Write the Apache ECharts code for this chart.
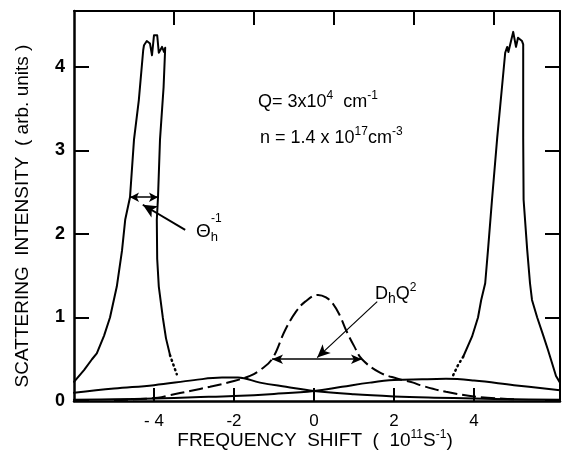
<!DOCTYPE html>
<html><head><meta charset="utf-8">
<script src="https://cdn.jsdelivr.net/npm/echarts@6/dist/echarts.min.js"></script>
<style>html,body{margin:0;padding:0;background:#fff}#c{width:570px;height:470px}</style>
</head><body><div id="c"></div>
<script>
// ---- data ----
const xTicks = [-4, -2, 0, 2, 4];
const xTickLabels = ['- 4', '-2', '0', '2', '4'];
const yTicks = [0, 1, 2, 3, 4];
const leftPeak = [[-6.0,0.23],[-5.75,0.37],[-5.55,0.5],[-5.43,0.57],[-5.25,0.78],[-5.1,1.0],[-4.93,1.37],[-4.8,1.8],[-4.72,2.17],[-4.6,2.44],[-4.5,3.13],[-4.38,3.6],[-4.27,4.2],[-4.25,4.26],[-4.18,4.31],[-4.1,4.28],[-4.05,4.14],[-4.0,4.38],[-3.92,4.38],[-3.88,4.17],[-3.8,4.24],[-3.75,4.18],[-3.72,4.23],[-3.76,3.76],[-3.85,3.13],[-3.9,2.44],[-3.93,2.17],[-3.92,1.7],[-3.88,1.37],[-3.78,1.0],[-3.7,0.75],[-3.6,0.55]];
const leftPeakDots = [[-3.6,0.55],[-3.52,0.44],[-3.43,0.32]];
const rightPeakDots = [[3.48,0.31],[3.6,0.43],[3.73,0.53]];
const rightPeak = [[3.73,0.53],[3.95,0.77],[4.1,1.0],[4.18,1.21],[4.28,1.41],[4.35,1.81],[4.45,2.41],[4.58,3.15],[4.7,3.76],[4.78,4.17],[4.83,4.24],[4.86,4.18],[4.93,4.32],[4.98,4.42],[5.05,4.24],[5.1,4.35],[5.2,4.31],[5.23,4.27],[5.23,3.76],[5.23,3.15],[5.24,2.41],[5.33,1.81],[5.4,1.41],[5.45,1.21],[5.58,1.0],[5.72,0.8],[5.85,0.61],[5.96,0.44],[6.05,0.3],[6.15,0.22]];
const centralDashed = [[-5,0.01],[-4.5,0.02],[-3.9,0.04],[-3.6,0.07],[-3.1,0.12],[-2.6,0.17],[-2.0,0.24],[-1.6,0.3],[-1.35,0.37],[-1.05,0.5],[-0.72,0.85],[-0.45,1.07],[-0.22,1.19],[0.1,1.27],[0.3,1.24],[0.48,1.16],[0.65,1.02],[0.8,0.85],[1.0,0.66],[1.2,0.5],[1.65,0.34],[2.07,0.27],[2.48,0.22],[2.65,0.19],[3.3,0.11],[4.08,0.05],[5.0,0.02]];
const broadLeft = [[-6,0.1],[-5,0.15],[-4,0.19],[-3,0.25],[-2.3,0.28],[-1.9,0.28],[-1.35,0.22],[-0.7,0.17],[0,0.12],[1,0.08],[2,0.055],[3,0.04],[4,0.03],[5,0.02],[6.15,0.015]];
const broadRight = [[-6,0.015],[-5,0.02],[-4,0.03],[-3,0.045],[-2,0.06],[-1,0.085],[0,0.12],[0.7,0.17],[1.4,0.22],[2,0.25],[2.7,0.26],[3.3,0.265],[4,0.245],[5,0.19],[6.15,0.13]];
// annotation arrows (data coords)
const thetaArrow = [[-4.6,2.44],[-3.9,2.44]];
const thetaPointer = [[-3.22,2.05],[-4.28,2.35]];
const dhArrow = [[-1.05,0.5],[1.2,0.5]];
const dhPointer = [[1.58,1.19],[0.08,0.52]];

const FONT = '"Liberation Sans", Arial, Helvetica, sans-serif';
const chart = echarts.init(document.getElementById('c'), null, {renderer: 'canvas'});
const blk = '#000';
const solid = (d, w) => ({type: 'line', data: d, showSymbol: false, symbol: 'none', silent: true, animation: false,
  lineStyle: {color: blk, width: w || 2, join: 'round', cap: 'round'}});
const richBase = {
  n: {fontSize: 18, lineHeight: 24, fontFamily: FONT, color: blk},
  sup: {fontSize: 12, lineHeight: 12, verticalAlign: 'top', fontFamily: FONT, color: blk},
  sub: {fontSize: 13, lineHeight: 13, verticalAlign: 'bottom', fontFamily: FONT, color: blk}
};
function arrowLine(pair, both, w, size) {
  return [{coord: pair[0], symbol: both ? 'arrow' : 'none', symbolSize: size},
          {coord: pair[1], symbol: 'arrow', symbolSize: size, lineStyle: {width: w}}];
}
const ann = solid(broadLeft);
ann.markLine = {silent: true, animation: false, label: {show: false}, symbol: ['arrow','arrow'],
  lineStyle: {color: blk, type: 'solid', width: 1.5},
  data: [
    arrowLine(thetaArrow, true, 1.5, [7,9]),
    arrowLine(thetaPointer, false, 2, [10,14]),
    arrowLine(dhArrow, true, 1.5, [7,11]),
    arrowLine(dhPointer, false, 1.2, [9,13])
  ]};
const dots = d => ({type: 'line', data: d, showSymbol: false, symbol: 'none', silent: true, animation: false,
  lineStyle: {color: blk, width: 2.5, type: [1, 4], cap: 'round'}});

chart.setOption({
  backgroundColor: '#fff',
  animation: false,
  grid: {left: 74, right: 10, top: 11, bottom: 69},
  xAxis: [{
    type: 'value', min: -6, max: 6.15, position: 'bottom',
    axisLine: {onZero: false, lineStyle: {color: blk, width: 2.5}},
    axisTick: {inside: true, length: 13, lineStyle: {color: blk, width: 2}, customValues: xTicks},
    axisLabel: {customValues: xTicks, color: blk, fontSize: 17, fontFamily: FONT, margin: 12,
      formatter: v => xTickLabels[xTicks.indexOf(v)]},
    splitLine: {show: false}
  }, {
    type: 'value', min: -6, max: 6.15, position: 'top',
    axisLine: {onZero: false, lineStyle: {color: blk, width: 2}},
    axisTick: {inside: true, length: 14, lineStyle: {color: blk, width: 2}, customValues: [-3.5,-1.5,0.5,2.5,4.5]},
    axisLabel: {show: false}, splitLine: {show: false}
  }],
  yAxis: [{
    type: 'value', min: 0, max: 4.67, position: 'left',
    axisLine: {show: true, onZero: false, lineStyle: {color: blk, width: 2.5}},
    axisTick: {show: true, inside: true, length: 15, lineStyle: {color: blk, width: 2}, customValues: yTicks},
    axisLabel: {customValues: yTicks, color: blk, fontSize: 18, fontWeight: 'bold', fontFamily: FONT, margin: 9},
    splitLine: {show: false}
  }, {
    type: 'value', min: 0, max: 4.67, position: 'right',
    axisLine: {show: true, onZero: false, lineStyle: {color: blk, width: 2}},
    axisTick: {show: true, inside: true, length: 15, lineStyle: {color: blk, width: 2}, customValues: yTicks},
    axisLabel: {show: false}, splitLine: {show: false}
  }],
  series: [
    solid(leftPeak), dots(leftPeakDots),
    solid(rightPeak), dots(rightPeakDots),
    Object.assign(solid(centralDashed), {smooth: 0.4, lineStyle: {color: blk, width: 2, type: [14, 5]}}),
    Object.assign(ann, {smooth: 0.4}),
    Object.assign(solid(broadRight), {smooth: 0.4})
  ],
  graphic: [
    {type: 'text', x: 258, y: 102, silent: true, style: {text: '{n|Q= 3x10}{sup|4}{n|  cm}{sup|-1}', rich: richBase, align: 'left', verticalAlign: 'middle'}},
    {type: 'text', x: 260, y: 138, silent: true, style: {text: '{n|n = 1.4 x 10}{sup|17}{n|cm}{sup|-3}', rich: richBase, align: 'left', verticalAlign: 'middle'}},
    {type: 'text', x: 196, y: 232, silent: true, style: {text: '{n|Θ}{sub|h}', rich: {n: {fontSize: 19, lineHeight: 24, fontFamily: FONT, color: blk}, sub: richBase.sub}, align: 'left', verticalAlign: 'middle'}},
    {type: 'text', x: 211, y: 219, silent: true, style: {text: '-1', fontSize: 12, fontFamily: FONT, fill: blk, align: 'left', verticalAlign: 'middle'}},
    {type: 'text', x: 375, y: 294, silent: true, style: {text: '{n|D}{sub|h}{n|Q}{sup|2}', rich: {n: {fontSize: 18, lineHeight: 24, fontFamily: FONT, color: blk}, sub: {fontSize: 14, lineHeight: 14, verticalAlign: 'bottom', fontFamily: FONT, color: blk}, sup: {fontSize: 12, lineHeight: 12, verticalAlign: 'top', fontFamily: FONT, color: blk}}, align: 'left', verticalAlign: 'middle'}},
    {type: 'text', x: 315, y: 441, silent: true, style: {text: '{n|FREQUENCY  SHIFT  (  10}{sup|11}{n|S}{sup|-1}{n|)}', rich: {n: {fontSize: 19, lineHeight: 24, fontFamily: FONT, color: blk}, sup: {fontSize: 12, lineHeight: 12, verticalAlign: 'top', fontFamily: FONT, color: blk}}, align: 'center', verticalAlign: 'middle'}},
    {type: 'text', x: 23, y: 216, rotation: Math.PI / 2, silent: true, style: {text: 'SCATTERING  INTENSITY  ( arb. units )', fontSize: 19, fontFamily: FONT, fill: blk, align: 'center', verticalAlign: 'middle'}}
  ]
});
</script></body></html>
